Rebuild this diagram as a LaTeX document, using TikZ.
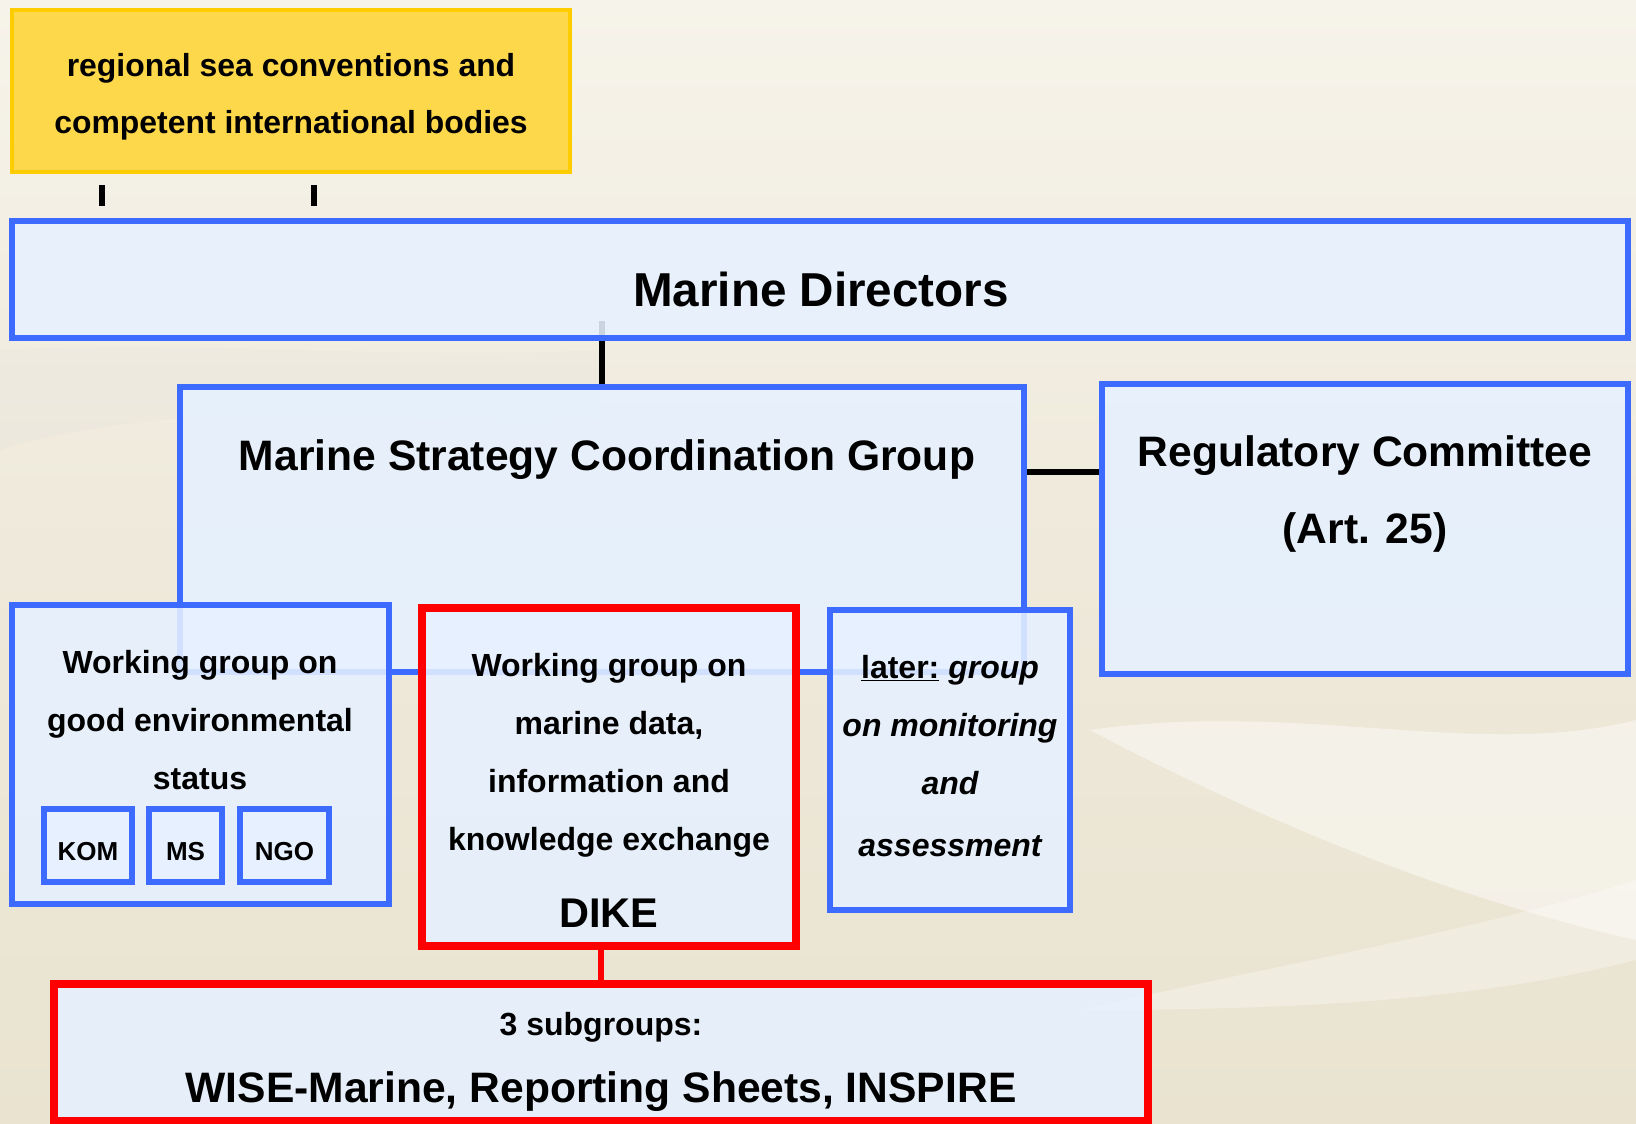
\documentclass[tikz,border=0pt]{standalone}
\usepackage{fontspec}
\setmainfont{Liberation Sans}
\usetikzlibrary{positioning, calc}
\definecolor{msfblue}{RGB}{61,107,255}
\definecolor{msfred}{RGB}{255,0,0}
\definecolor{msfyellow}{RGB}{253,216,74}
\definecolor{msfgold}{RGB}{255,204,0}
\definecolor{msffill}{RGB}{230,241,255}
\definecolor{sandtop}{RGB}{246,243,234}
\definecolor{sandmid}{RGB}{238,233,218}
\definecolor{sandbot}{RGB}{233,227,208}
\pgfdeclarelayer{bg}
\pgfdeclarelayer{back}
\pgfsetlayers{bg,back,main}

\begin{document}
\begin{tikzpicture}[x=1pt, y=-1pt,
    node distance=13pt,
    box/.style={draw=msfblue, line width=5.8pt, fill=msffill, fill opacity=0.88, text opacity=1, inner sep=0pt, outer sep=0pt},
    redbox/.style={box, draw=msfred, line width=7.2pt},
    ybox/.style={box, draw=msfgold, fill=msfyellow, line width=4.5pt, fill opacity=1},
    member/.style={box, minimum height=73pt, font=\fontsize{26}{30}\selectfont\bfseries, text height=29.6pt, text depth=0pt},
    big/.style={font=\fontsize{42.6}{77}\selectfont\bfseries, align=center},
    txt/.style={font=\fontsize{32}{58}\selectfont\bfseries, align=center},
    conn/.style={draw=black, line width=5.5pt},
    redconn/.style={draw=msfred, line width=6pt}
  ]
  \useasboundingbox (0,0) rectangle (1636,1124);
  % sand background
  \begin{pgfonlayer}{bg}
    \fill[top color=sandtop, bottom color=sandbot, middle color=sandmid] (0,0) rectangle (1636,1124);
    \fill[white, opacity=0.45] (1090,730) .. controls (1300,700) and (1480,760) .. (1636,720)
      -- (1636,940) .. controls (1460,900) and (1280,830) .. (1090,730) -- cycle;
    \fill[white, opacity=0.3] (1080,1010) .. controls (1300,960) and (1480,930) .. (1636,880)
      -- (1636,960) .. controls (1480,1000) and (1300,1010) .. (1080,1010) -- cycle;
    \fill[black!15, opacity=0.12] (0,350) .. controls (200,340) and (400,360) .. (600,350)
      -- (600,420) .. controls (400,430) and (200,390) .. (0,450) -- cycle;
  \end{pgfonlayer}

  % boxes
  \node[ybox, minimum width=558pt, minimum height=162pt] (rsc) at (291,91) {};
  \node[txt, font=\fontsize{31.9}{57}\selectfont\bfseries] (rsct) at (291,97)
    {regional sea conventions and\\competent international bodies};
  \node[box, minimum width=1616pt, minimum height=117pt] (md) at (820,279.5) {};
  \node[font=\fontsize{47.6}{57}\selectfont\bfseries] (mdt) at (821,289) {Marine Directors};
  \node[box, minimum width=844pt, minimum height=285pt] (mscg) at (602,529.5) {};
  \node[big] (mscgt) at (607,460) {Marine Strategy Coordination Group};
  \node[box, minimum width=526pt, minimum height=290pt] (rc) at (1365,529) {};
  \node[big] (rct) at (1365,494) {Regulatory Committee\\(Art. 25)};

  % working groups
  \node[box, minimum width=377pt, minimum height=299pt] (ges) at (200.5,754.5) {};
  \node[txt] (gest) at (200,720) {Working group on\\good environmental\\status};
  \node[member, minimum width=88pt] (kom) at (88,845.5) {KOM};
  \node[member, minimum width=73pt, right=17pt of kom] (ms) {MS};
  \node[member, minimum width=89pt, right=18pt of ms] (ngo) {NGO};
  \node[redbox, minimum width=374pt, minimum height=338pt] (dike) at (609,777) {};
  \node[txt] (diket) at (609,755) {Working group on\\marine data,\\information and\\knowledge exchange};
  \node[font=\fontsize{41.5}{50}\selectfont\bfseries] (dikel) at (609,913) {DIKE};
  \node[box, minimum width=240pt, minimum height=300pt] (mon) at (950,760) {};
  \node[txt] (mont) at (950,756) {\underline{later:} \itshape group\\\itshape on monitoring\\\itshape and\\[4pt]\itshape assessment};

  % subgroups
  \node[redbox, minimum width=1094pt, minimum height=137pt] (sub) at (601,1052.5) {};
  \node[txt] (subt) at (601,1027) {3 subgroups:};
  \node[big] (subl) at (601,1092) {WISE-Marine, Reporting Sheets, INSPIRE};

  % connectors
  \begin{pgfonlayer}{back}
    \draw[conn] ([xshift=90pt, yshift=-13pt]rsc.south west) -- ++(0,21);
    \draw[conn] ([xshift=302pt, yshift=-13pt]rsc.south west) -- ++(0,21);
    \draw[conn] ([yshift=17pt]md.south -| mscg.north) -- (mscg.north);
    \draw[conn] ([yshift=-85pt]mscg.north east) coordinate (m1) -- (m1 -| rc.west);
    \draw[redconn] (sub.north |- dike.south) -- (sub.north);
  \end{pgfonlayer}
\end{tikzpicture}
\end{document}
